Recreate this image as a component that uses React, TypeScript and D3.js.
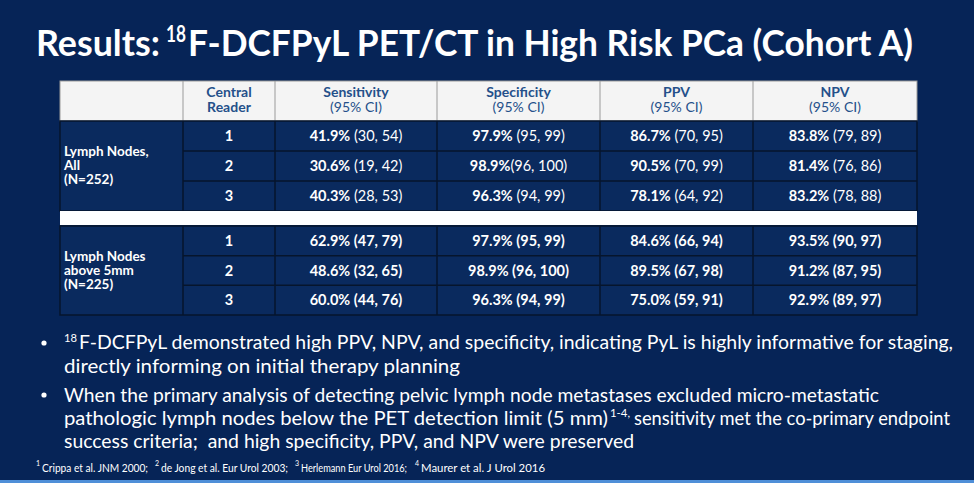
import React from "react";
import * as d3 from "d3";

const W = 974;
const H = 483;

const metrics = ["Sensitivity", "Specificity", "PPV", "NPV"];
const readers = ["1", "2", "3"];
const groupLabels = [
  ["Lymph Nodes,", "All", "(N=252)"],
  ["Lymph Nodes", "above 5mm", "(N=225)"],
];
// [estimate, lower, upper] per reader; first 3 = all nodes, last 3 = above 5mm
const sensitivity = [
  [41.9, 30, 54], [30.6, 19, 42], [40.3, 28, 53],
  [62.9, 47, 79], [48.6, 32, 65], [60.0, 44, 76],
];
const specificity = [
  [97.9, 95, 99], [98.9, 96, 100], [96.3, 94, 99],
  [97.9, 95, 99], [98.9, 96, 100], [96.3, 94, 99],
];
const ppv = [
  [86.7, 70, 95], [90.5, 70, 99], [78.1, 64, 92],
  [84.6, 66, 94], [89.5, 67, 98], [75.0, 59, 91],
];
const npv = [
  [83.8, 79, 89], [81.4, 76, 86], [83.2, 78, 88],
  [93.5, 90, 97], [91.2, 87, 95], [92.9, 89, 97],
];
const seriesValues = [sensitivity, specificity, ppv, npv];
// cells printed without a space before the CI: [rowIndex, metricIndex]
const tightCells = [[1, 1]];

const titleParts = ["Results:", "18", "F-DCFPyL PET/CT in High Risk PCa (Cohort A)"];
const bullet1 = ["F-DCFPyL demonstrated high PPV, NPV, and specificity, indicating PyL is highly informative for staging,", "directly informing on initial therapy planning"];
const bullet2 = [
  "When the primary analysis of detecting pelvic lymph node metastases excluded micro-metastatic",
  "pathologic lymph nodes below the PET detection limit (5 mm)",
  "sensitivity met the co-primary endpoint",
  "success criteria;  and high specificity, PPV, and NPV were preserved",
];
const footnotes = ["Crippa et al. JNM 2000;", "de Jong et al. Eur Urol 2003;", "Herlemann Eur Urol 2016;", "Maurer et al. J Urol 2016"];

const FONT = "Lato, 'Open Sans', sans-serif";
const BG = "#062457";
const CELL = "#0a2a5e";
const LINE = "#06152c";
const HEAD_TXT = "#24508a";

export default function App() {
  const colEdges = [60, 183, 275, 437, 600, 753, 917];
  const colX = d3.scaleOrdinal<string, number>()
    .domain(["label", "reader", ...metrics])
    .range(colEdges.slice(0, 6));
  const colW = (i: number) => colEdges[i + 1] - colEdges[i];
  const headTop = 81, headBot = 121;
  const sections = [
    d3.scaleBand<string>().domain(readers).range([121, 211]),
    d3.scaleBand<string>().domain(readers).range([226, 315]),
  ];
  const fmt = d3.format(".1f");
  const isTight = (r: number, m: number) => tightCells.some(([a, b]) => a === r && b === m);

  const footX = [[36, 42, 148], [155, 161, 288], [295, 301, 407], [415, 421, 545]];

  return (
    <svg width={W} height={H} style={{ position: "absolute", left: 0, top: 0, display: "block" }} fontFamily={FONT}>
      <rect x={0} y={0} width={W} height={H} fill={BG} />
      <rect x={0} y={480} width={W} height={3} fill="#4f8fd8" />

      {/* Title */}
      <g fill="#fff" fontWeight={700}>
        <text x={36} y={56} fontSize={37} textLength={124} lengthAdjust="spacingAndGlyphs">{titleParts[0]}</text>
        <text x={166} y={42} fontSize={22} textLength={20} lengthAdjust="spacingAndGlyphs">{titleParts[1]}</text>
        <text x={188} y={56} fontSize={37} textLength={725} lengthAdjust="spacingAndGlyphs">{titleParts[2]}</text>
      </g>

      {/* Header row */}
      <rect x={colEdges[0]} y={headTop} width={colEdges[6] - colEdges[0]} height={headBot - headTop} fill="#f4f4f4" stroke="#9a9a9a" strokeWidth={1} />
      {colEdges.slice(1, 6).map((x, i) => (
        <line key={"hl" + i} x1={x} x2={x} y1={headTop} y2={headBot} stroke="#9a9a9a" strokeWidth={1} />
      ))}
      <text x={colX("reader") + colW(1) / 2} y={97} textAnchor="middle" fill={HEAD_TXT} fontWeight={700} fontSize={14}>Central</text>
      <text x={colX("reader") + colW(1) / 2} y={112} textAnchor="middle" fill={HEAD_TXT} fontWeight={700} fontSize={14}>Reader</text>
      {metrics.map((m, i) => {
        const cx = colX(m) + colW(i + 2) / 2;
        return (
          <g key={m}>
            <text x={cx} y={97} textAnchor="middle" fill={HEAD_TXT} fontSize={14} fontWeight={700}>{m}</text>
            <text x={cx} y={112} textAnchor="middle" fill={HEAD_TXT} fontSize={14}>(95% CI)</text>
          </g>
        );
      })}

      {/* Body sections */}
      {sections.map((band, s) => {
        const y0 = band.range()[0], y1 = band.range()[1];
        const mid = (y0 + y1) / 2;
        return (
          <g key={"s" + s}>
            <rect x={colEdges[0]} y={y0} width={colEdges[6] - colEdges[0]} height={y1 - y0} fill={CELL} stroke={LINE} strokeWidth={1.5} />
            {colEdges.slice(1, 6).map((x, i) => (
              <line key={"v" + i} x1={x} x2={x} y1={y0} y2={y1} stroke={LINE} strokeWidth={1.5} />
            ))}
            {readers.slice(1).map((r) => (
              <line key={"h" + r} x1={colEdges[1]} x2={colEdges[6]} y1={band(r)} y2={band(r)} stroke={LINE} strokeWidth={1.5} />
            ))}
            {groupLabels[s].map((l, k) => (
              <text key={k} x={64} y={mid + 4 + (k - 1) * 14} fill="#fff" fontWeight={700} fontSize={13.5}>{l}</text>
            ))}
            {readers.map((r, ri) => {
              const cy = (band(r) as number) + band.bandwidth() / 2 + 5;
              const row = s * 3 + ri;
              return (
                <g key={r}>
                  <text x={colX("reader") + colW(1) / 2} y={cy} textAnchor="middle" fill="#fff" fontWeight={700} fontSize={14.5}>{r}</text>
                  {metrics.map((m, mi) => {
                    const v = seriesValues[mi][row];
                    const cx = colX(m) + colW(mi + 2) / 2;
                    const sep = isTight(row, mi) ? "" : " ";
                    return (
                      <text key={m} x={cx} y={cy} textAnchor="middle" fill="#fff" fontSize={14.5} xmlSpace="preserve">
                        <tspan fontWeight={700}>{fmt(v[0]) + "%"}</tspan>
                        <tspan fontWeight={s === 1 ? 700 : 400}>{`${sep}(${v[1]}, ${v[2]})`}</tspan>
                      </text>
                    );
                  })}
                </g>
              );
            })}
          </g>
        );
      })}
      {/* white separator */}
      <rect x={colEdges[0]} y={211} width={colEdges[6] - colEdges[0]} height={14} fill="#ffffff" />

      {/* Bullets */}
      <g fill="#fff" fontSize={18.5}>
        <circle cx={44} cy={343} r={2.6} />
        <text x={64} y={342} fontSize={12} textLength={13} lengthAdjust="spacingAndGlyphs">18</text>
        <text x={79} y={349} textLength={874} lengthAdjust="spacingAndGlyphs">{bullet1[0]}</text>
        <text x={64} y={373} textLength={396} lengthAdjust="spacingAndGlyphs">{bullet1[1]}</text>
        <circle cx={44} cy={395} r={2.6} />
        <text x={64} y={402} textLength={815} lengthAdjust="spacingAndGlyphs">{bullet2[0]}</text>
        <text x={64} y={425} textLength={544} lengthAdjust="spacingAndGlyphs">{bullet2[1]}</text>
        <text x={610} y={417} fontSize={12} textLength={20} lengthAdjust="spacingAndGlyphs">1-4,</text>
        <text x={634} y={425} textLength={316} lengthAdjust="spacingAndGlyphs">{bullet2[2]}</text>
        <text x={64} y={448} textLength={570} lengthAdjust="spacingAndGlyphs" xmlSpace="preserve">{bullet2[3]}</text>
      </g>

      {/* Footnote */}
      <g fill="#fff">
        {footnotes.map((f, i) => (
          <g key={i}>
            <text x={footX[i][0]} y={466} fontSize={7}>{String(i + 1)}</text>
            <text x={footX[i][1]} y={472} fontSize={10.5} textLength={footX[i][2] - footX[i][1]} lengthAdjust="spacingAndGlyphs">{f}</text>
          </g>
        ))}
      </g>
    </svg>
  );
}
